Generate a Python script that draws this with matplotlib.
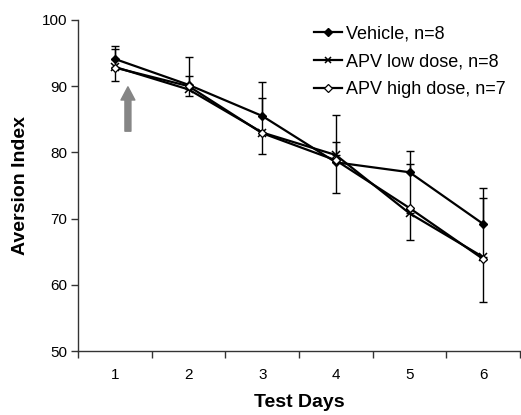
import matplotlib
matplotlib.use("Agg")
import matplotlib.pyplot as plt
import numpy as np

plt.rcParams['font.family'] = ['Liberation Sans', 'DejaVu Sans']

days = [1, 2, 3, 4, 5, 6]
day_labels = ["1", "2", "3", "4", "5", "6"]

vehicle = [94.1, 90.2, 85.5, 78.5, 77.0, 69.2]
vehicle_up = [2.0, 4.2, 5.1, 7.2, 3.2, 5.4]

low_dose = [92.9, 89.5, 83.0, 79.6, 70.8, 64.2]
low_down = [2.1, 1.0, 3.2, 5.7, 4.0, 6.8]

high_dose = [92.8, 90.0, 82.9, 78.8, 71.6, 63.9]
high_up = [2.8, 1.5, 5.3, 2.8, 6.6, 9.2]

labels = ["Vehicle, n=8", "APV low dose, n=8", "APV high dose, n=7"]

fig = plt.figure(figsize=(5.21, 4.15), dpi=100)
ax = fig.add_axes([0.150, 0.154, 0.848, 0.798])

z = np.zeros(len(days))
eb = dict(fmt='none', ecolor='black', elinewidth=1.0, capsize=2.6, capthick=1.0, zorder=2)
ax.errorbar(days, vehicle, yerr=[z, vehicle_up], **eb)
ax.errorbar(days, low_dose, yerr=[low_down, z], **eb)
ax.errorbar(days, high_dose, yerr=[z, high_up], **eb)

ax.plot(days, vehicle, color='black', lw=1.6, marker='D', ms=4.5,
        mfc='black', mec='black', label=labels[0], zorder=3)
ax.plot(days, low_dose, color='black', lw=1.6, marker='x', ms=6, mew=1.1,
        label=labels[1], zorder=3)
ax.plot(days, high_dose, color='black', lw=1.6, marker='D', ms=4.5,
        mfc='white', mec='black', mew=0.9, label=labels[2], zorder=4)

# grey arrow
ax.annotate('', xy=(1.176, 89.9), xytext=(1.176, 83.2),
            arrowprops=dict(facecolor='#858585', edgecolor='#858585',
                            width=4.3, headwidth=10, headlength=9.5))

ax.set_xlim(0.5, 6.5)
ax.set_ylim(50, 100)
ax.set_yticks([50, 60, 70, 80, 90, 100])
ax.set_xticks(days)
ax.set_xticklabels(day_labels)
ax.set_xticks(np.arange(0.5, 6.6, 1.0), minor=True)
ax.tick_params(axis='x', which='major', length=0, pad=12, labelsize=11)
ax.tick_params(axis='x', which='minor', length=5, direction='out', width=1, color='#333333')
ax.tick_params(axis='y', length=5, direction='out', width=1, labelsize=11, pad=3, color='#333333')

for s in ['top', 'right']:
    ax.spines[s].set_visible(False)
for s in ['left', 'bottom']:
    ax.spines[s].set_linewidth(1.0)
    ax.spines[s].set_color('#333333')

ax.set_xlabel("Test Days", fontsize=14, fontweight='bold', labelpad=9)
ax.set_ylabel("Aversion Index", fontsize=14, fontweight='bold', labelpad=9)

leg = ax.legend(loc='upper left', frameon=False, fontsize=13, handlelength=1.55,
                handletextpad=0.2, labelspacing=0.6, borderpad=0, borderaxespad=0,
                bbox_to_anchor=(0.603, 0.938), bbox_transform=fig.transFigure,
                markerscale=0.8)

fig.savefig("out.png", dpi=100)
